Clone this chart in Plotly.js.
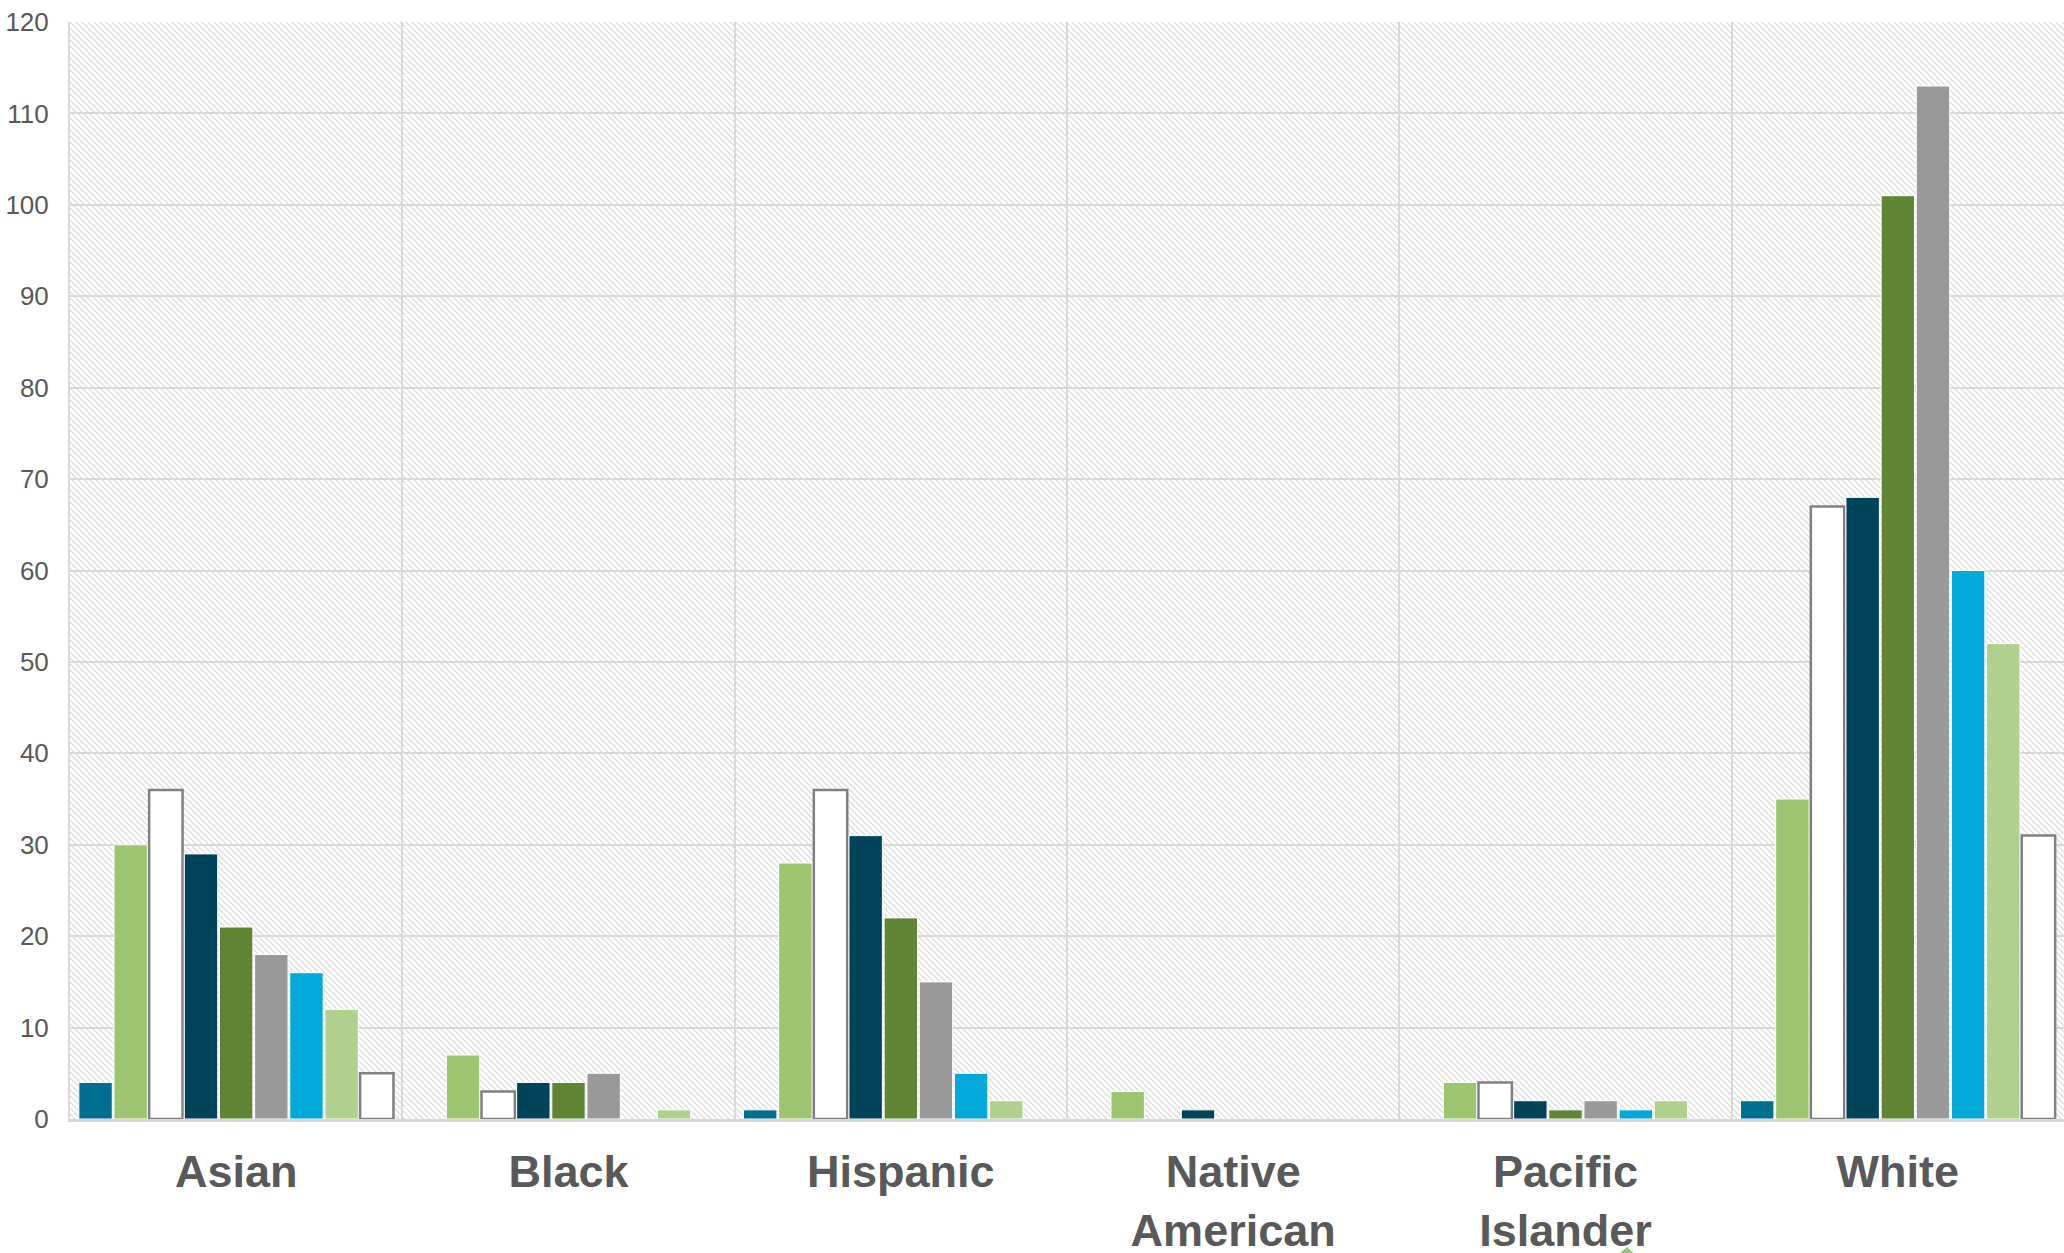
<!DOCTYPE html>
<html>
<head>
<meta charset="utf-8">
<script src="https://cdn.plot.ly/plotly-3.0.1.min.js"></script>
<style>html,body{margin:0;padding:0;background:#fff;}#chart{width:2064px;height:1253px;}</style>
</head>
<body>
<div id="chart"></div>
<script>
const categories = ['Asian', 'Black', 'Hispanic', 'Native<br>American', 'Pacific<br>Islander', 'White'];
const series1 = [4, null, 1, null, null, 2];
const series2 = [30, 7, 28, 3, 4, 35];
const series3 = [36, 3, 36, null, 4, 67];
const series4 = [29, 4, 31, 1, 2, 68];
const series5 = [21, 4, 22, null, 1, 101];
const series6 = [18, 5, 15, null, 2, 113];
const series7 = [16, null, 5, null, 1, 60];
const series8 = [12, 1, 2, null, 2, 52];
const series9 = [5, null, null, null, null, 31];
const seriesNames = ['Series 1', 'Series 2', 'Series 3', 'Series 4', 'Series 5', 'Series 6', 'Series 7', 'Series 8', 'Series 9'];
const yTicks = [0, 10, 20, 30, 40, 50, 60, 70, 80, 90, 100, 110, 120];

const allSeries = [series1, series2, series3, series4, series5, series6, series7, series8, series9];
const fills = ['#006E8F', '#9DC471', '#FFFFFF', '#00445A', '#5F8535', '#999999', '#00A9DA', '#B0D08D', '#FFFFFF'];
const lines = ['#FFFFFF', '#FFFFFF', '#808080', '#FFFFFF', '#FFFFFF', '#FFFFFF', '#FFFFFF', '#FFFFFF', '#808080'];
const lineW = [1, 1, 2.5, 1, 1, 1, 1, 1, 2.5];

const traces = allSeries.map((vals, i) => ({
  type: 'bar',
  name: seriesNames[i],
  x: categories,
  y: vals,
  marker: {color: fills[i], line: {color: lines[i], width: lineW[i]}},
  hoverinfo: 'x+y+name'
}));

const W = 1994, H = 1097;
const svg = `<svg xmlns="http://www.w3.org/2000/svg" width="${W}" height="${H}">` +
  `<defs><pattern id="p" width="6" height="6" patternUnits="userSpaceOnUse">` +
  `<path d="M0,0 L6,6 M-1,5 L1,7 M5,-1 L7,1" stroke="#d6d6d6" stroke-width="1.1"/></pattern></defs>` +
  `<rect width="100%" height="100%" fill="#ffffff"/><rect width="100%" height="100%" fill="url(#p)"/></svg>`;
const bgSrc = 'data:image/svg+xml;charset=utf-8,' + encodeURIComponent(svg);

const layout = {
  width: 2064,
  height: 1253,
  margin: {l: 70, r: 0, t: 22, b: 134, pad: 0},
  paper_bgcolor: '#ffffff',
  plot_bgcolor: '#ffffff',
  barmode: 'group',
  bargap: 0.048,
  bargroupgap: 0.05,
  showlegend: false,
  font: {family: 'Arial, "Liberation Sans", sans-serif', color: '#595959'},
  xaxis: {
    type: 'category',
    tickson: 'boundaries',
    showgrid: true,
    gridcolor: '#d9d9d9',
    gridwidth: 2,
    showline: true,
    linecolor: '#d9d9d9',
    linewidth: 3,
    ticks: '',
    ticklabelstandoff: 11,
    tickfont: {family: 'Arial, "Liberation Sans", sans-serif', size: 45, color: '#595959', weight: 'bold'},
    tickangle: 0,
    fixedrange: true
  },
  yaxis: {
    range: [0, 120],
    tickvals: yTicks,
    ticktext: yTicks.map(String),
    showgrid: true,
    gridcolor: '#d9d9d9',
    gridwidth: 2,
    zeroline: false,
    showline: true,
    linecolor: '#d9d9d9',
    linewidth: 2,
    mirror: true,
    ticks: 'outside',
    ticklen: 14,
    tickcolor: 'rgba(0,0,0,0)',
    tickfont: {family: 'Arial, "Liberation Sans", sans-serif', size: 26, color: '#595959'},
    fixedrange: true
  },
  images: [{
    source: bgSrc,
    xref: 'paper', yref: 'paper',
    x: 0, y: 1, sizex: 1, sizey: 1,
    xanchor: 'left', yanchor: 'top',
    sizing: 'stretch',
    layer: 'below'
  }],
  shapes: [{
    type: 'path',
    xref: 'paper', yref: 'paper',
    path: 'M 0.7733,-0.1290 L 0.7808,-0.1167 L 0.7884,-0.1290 Z',
    fillcolor: '#9DC471',
    line: {width: 0}
  }]
};

Plotly.newPlot('chart', traces, layout, {displayModeBar: false, staticPlot: true});
</script>
</body>
</html>
